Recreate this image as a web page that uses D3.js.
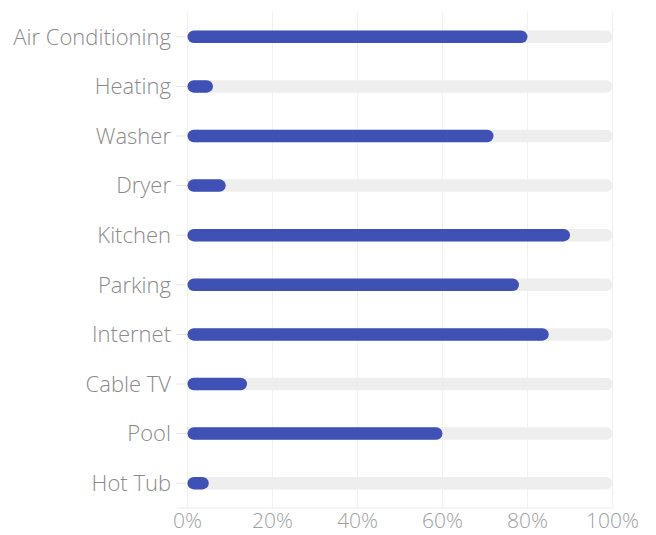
<!DOCTYPE html>
<html><head><meta charset="utf-8">
<script src="https://cdn.jsdelivr.net/npm/d3@7"></script>
<style>body{margin:0;background:#fff;} text{font-family:"Open Sans",sans-serif;}</style>
</head><body>
<svg id="c" width="656" height="535"></svg>
<script>
const categories = ["Air Conditioning","Heating","Washer","Dryer","Kitchen","Parking","Internet","Cable TV","Pool","Hot Tub"];
const values = [80, 6, 72, 9, 90, 78, 85, 14, 60, 5];
const tickValues = [0, 20, 40, 60, 80, 100];
const tickLabels = ["0%","20%","40%","60%","80%","100%"];

const svg = d3.select("#c");
const x = d3.scaleLinear().domain([0,100]).range([187.5,612.5]);
const y = d3.scaleBand().domain(categories).range([12,508]);
const barH = 12.5;

// grid
svg.append("g").selectAll("line").data(tickValues).join("line")
  .attr("x1", d=>x(d)).attr("x2", d=>x(d)).attr("y1", 12).attr("y2", 508)
  .attr("stroke", "#f0f0f0").attr("stroke-width", 1);
// bottom axis line
svg.append("line").attr("x1", 177).attr("x2", 612.5).attr("y1", 508).attr("y2", 508)
  .attr("stroke", "#ebebeb");
// y ticks
svg.append("g").selectAll("line").data(categories).join("line")
  .attr("x1", 176).attr("x2", 186).attr("y1", d=>y(d)+y.bandwidth()/2).attr("y2", d=>y(d)+y.bandwidth()/2)
  .attr("stroke", "#e6e6e6");
// tracks
svg.append("g").selectAll("rect").data(categories).join("rect")
  .attr("x", x(0)).attr("width", x(100)-x(0))
  .attr("y", d=>y(d)+y.bandwidth()/2-barH/2).attr("height", barH)
  .attr("rx", barH/2).attr("fill", "#eeeeee");
// bars
svg.append("g").selectAll("rect").data(categories).join("rect")
  .attr("x", x(0)).attr("width", (d,i)=>x(values[i])-x(0))
  .attr("y", d=>y(d)+y.bandwidth()/2-barH/2).attr("height", barH)
  .attr("rx", barH/2).attr("fill", "#3f51b5");
// category labels
svg.append("g").selectAll("text").data(categories).join("text")
  .attr("x", 171).attr("y", d=>y(d)+y.bandwidth()/2).attr("dy", "0.35em")
  .attr("text-anchor", "end").attr("font-size", 22).attr("font-weight", 300)
  .attr("fill", "#8a8a8a").text(d=>d);
// x tick labels
svg.append("g").selectAll("text").data(tickValues).join("text")
  .attr("x", d=>x(d)).attr("y", 521).attr("dy", "0.35em")
  .attr("text-anchor", "middle").attr("font-size", 21).attr("font-weight", 300)
  .attr("fill", "#a0a0a0")
  .text((d,i)=>tickLabels[i]);
</script>
</body></html>
